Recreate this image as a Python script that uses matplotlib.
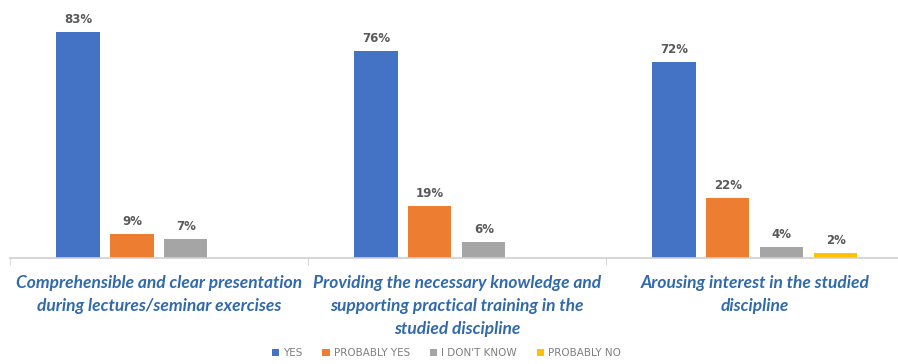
import numpy as np
from matplotlib import pyplot as plt

categories = [
    'Comprehensible and clear presentation\nduring lectures/seminar exercises',
    'Providing the necessary knowledge and\nsupporting practical training in the\nstudied discipline',
    'Arousing interest in the studied\ndiscipline',
]
series_names = ['YES', 'PROBABLY YES', "I DON'T KNOW", 'PROBABLY NO']
yes = [83, 76, 72]
probably_yes = [9, 19, 22]
dont_know = [7, 6, 4]
probably_no = [0, 0, 2]

colors = ['#4472C4', '#ED7D31', '#A5A5A5', '#FFC000']

fig = plt.figure(figsize=(8.98, 3.64), dpi=100)
ax = fig.add_axes([0.011, 0.291, 0.9955, 0.673])

x = np.arange(len(categories))
step = 0.181
width = 0.145
series = [yes, probably_yes, dont_know, probably_no]
for i, (name, vals, col) in enumerate(zip(series_names, series, colors)):
    pos = x + (i - 1.5) * step
    # zero values are not shown as bars
    h = [v if v > 0 else np.nan for v in vals]
    bars = ax.bar(pos, h, width, color=col, label=name)
    for b, v in zip(bars, vals):
        if v > 0:
            ax.text(b.get_x() + b.get_width() / 2, v + 2.2, f'{v}%',
                    ha='center', va='bottom', fontsize=8.5,
                    fontweight='bold', color='#595959')

ax.set_xlim(-0.5, 2.5)
ax.set_ylim(0, 90)
ax.set_yticks([])
for s in ['top', 'right', 'left']:
    ax.spines[s].set_visible(False)
ax.spines['bottom'].set_color('#D0D0D0')
ax.spines['bottom'].set_linewidth(1.2)

ax.set_xticks(x)
ax.set_xticklabels(categories, fontsize=12.5, family='Lato',
                   fontstyle='italic', fontweight='bold', color='#3169AD',
                   linespacing=1.55)
ax.tick_params(axis='x', which='major', length=0, pad=12)
ax.set_xticks([-0.5, 0.5, 1.5, 2.5], minor=True)
ax.tick_params(axis='x', which='minor', length=5, color='#D0D0D0')

leg = fig.legend(loc='center', bbox_to_anchor=(0.497, 0.03), ncol=4,
                 frameon=False, fontsize=7.5, handlelength=0.7,
                 handleheight=0.7, handletextpad=0.4, columnspacing=1.9)
for t in leg.get_texts():
    t.set_color('#7F7F7F')

fig.savefig('out.png', dpi=100)
